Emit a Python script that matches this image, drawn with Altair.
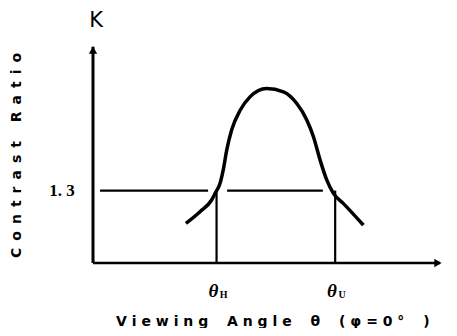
import altair as alt
import pandas as pd

# ---- data (arbitrary schematic units: x = viewing angle 0..100, y = contrast ratio K) ----
curve_x = [26.4, 30.4, 33.7, 34.7, 36.1, 37.0, 38.0, 39.4, 41.8, 44.6, 49.3,
           54.1, 57.9, 60.7, 62.6, 64.5, 66.4, 68.3, 71.1, 76.8]
curve_y = [0.71, 0.92, 1.13, 1.25, 1.43, 1.67, 2.03, 2.39, 2.74, 2.98, 3.13,
           3.07, 2.86, 2.57, 2.27, 1.85, 1.49, 1.25, 1.07, 0.68]
threshold = 1.3
theta_h = 35.1
theta_u = 68.8
ref_start = [2.0, 38.1]
ref_end = [32.7, 65.3]
x_max = 100
y_max = 4.0

EN = "\u2002"
NB = "\u00a0"
def spaced(s, letter_gap, word_gap):
    words = [letter_gap.join(w) for w in s.split(" ")]
    return word_gap.join(words)

xs = alt.Scale(domain=[0, x_max], nice=False, zero=False)
ys = alt.Scale(domain=[0, y_max], nice=False, zero=False)

curve_df = pd.DataFrame({"x": curve_x, "y": curve_y})
curve = alt.Chart(curve_df).mark_line(color="black", strokeWidth=3.5, interpolate="monotone").encode(
    x=alt.X("x:Q", scale=xs, axis=None), y=alt.Y("y:Q", scale=ys, axis=None))

ref_df = pd.DataFrame({"x": ref_start, "x2": ref_end, "y": [threshold] * 2})
ref = alt.Chart(ref_df).mark_rule(color="black", strokeWidth=2.2).encode(
    x=alt.X("x:Q", scale=xs, axis=None), x2="x2:Q", y=alt.Y("y:Q", scale=ys, axis=None))

vert_df = pd.DataFrame({"x": [theta_h, theta_u], "y": [0, 0], "y2": [threshold, threshold]})
vert = alt.Chart(vert_df).mark_rule(color="black", strokeWidth=2.2).encode(
    x=alt.X("x:Q", scale=xs, axis=None), y=alt.Y("y:Q", scale=ys, axis=None), y2="y2:Q")

# axes lines
yaxis_df = pd.DataFrame({"x": [0], "y": [0], "y2": [y_max * 0.97]})
yaxis = alt.Chart(yaxis_df).mark_rule(color="black", strokeWidth=3).encode(
    x=alt.X("x:Q", scale=xs, axis=None), y=alt.Y("y:Q", scale=ys, axis=None), y2="y2:Q")
xaxis_df = pd.DataFrame({"x": [0], "x2": [x_max * 0.985], "y": [0]})
xaxis = alt.Chart(xaxis_df).mark_rule(color="black", strokeWidth=2.5).encode(
    x=alt.X("x:Q", scale=xs, axis=None), x2="x2:Q", y=alt.Y("y:Q", scale=ys, axis=None))

arrow_up = alt.Chart(pd.DataFrame({"x": [0], "y": [y_max * 0.955]})).mark_point(
    shape="triangle-up", filled=True, color="black", opacity=1, size=70).encode(
    x=alt.X("x:Q", scale=xs, axis=None), y=alt.Y("y:Q", scale=ys, axis=None))
arrow_right = alt.Chart(pd.DataFrame({"x": [x_max * 0.98], "y": [0]})).mark_point(
    shape="triangle-right", filled=True, color="black", opacity=1, size=70).encode(
    x=alt.X("x:Q", scale=xs, axis=None), y=alt.Y("y:Q", scale=ys, axis=None))

# labels
def label(x, y, text, size, bold=True, italic=False, angle=0, font="DejaVu Sans", align="center"):
    kw = dict(fontSize=size, font=font, color="black", align=align, baseline="middle")
    if bold:
        kw["fontWeight"] = "bold"
    if italic:
        kw["fontStyle"] = "italic"
    if angle:
        kw["angle"] = angle
    return alt.Chart(pd.DataFrame({"x": [x], "y": [y], "t": [text]})).mark_text(**kw).encode(
        x=alt.X("x:Q", scale=xs, axis=None), y=alt.Y("y:Q", scale=ys, axis=None), text="t:N")

k_label = label(0.9, 4.34, "K", 21, bold=False, font="DejaVu Sans")
thr_label = label(-8.8, threshold, "1." + NB + "3", 17, font="Liberation Serif")
th_main = label(theta_h - 0.9, -0.50, "θ", 19, italic=True, font="Liberation Serif")
th_sub = label(theta_h + 2.0, -0.58, "H", 10, font="Liberation Serif")
tu_main = label(theta_u - 0.9, -0.50, "θ", 19, italic=True, font="Liberation Serif")
tu_sub = label(theta_u + 2.0, -0.58, "U", 10, font="Liberation Serif")
x_title = label(51.1, -1.06, spaced("Viewing Angle θ (φ=0° )", NB, EN + EN + NB), 14)
y_title = label(-21.6, 1.93, spaced("Contrast Ratio", EN, EN + EN + NB), 14, angle=270)

chart = alt.layer(
    xaxis, yaxis, arrow_up, arrow_right, ref, vert, curve,
    k_label, thr_label, th_main, th_sub, tu_main, tu_sub, x_title, y_title
).properties(
    width=352, height=223,
    padding={"left": 85, "top": 32, "right": 4, "bottom": 65},
    autosize=alt.AutoSizeParams(type="none"),
).configure_view(stroke=None)

chart.save("out.html", embed_options={"renderer": "svg", "actions": False})
